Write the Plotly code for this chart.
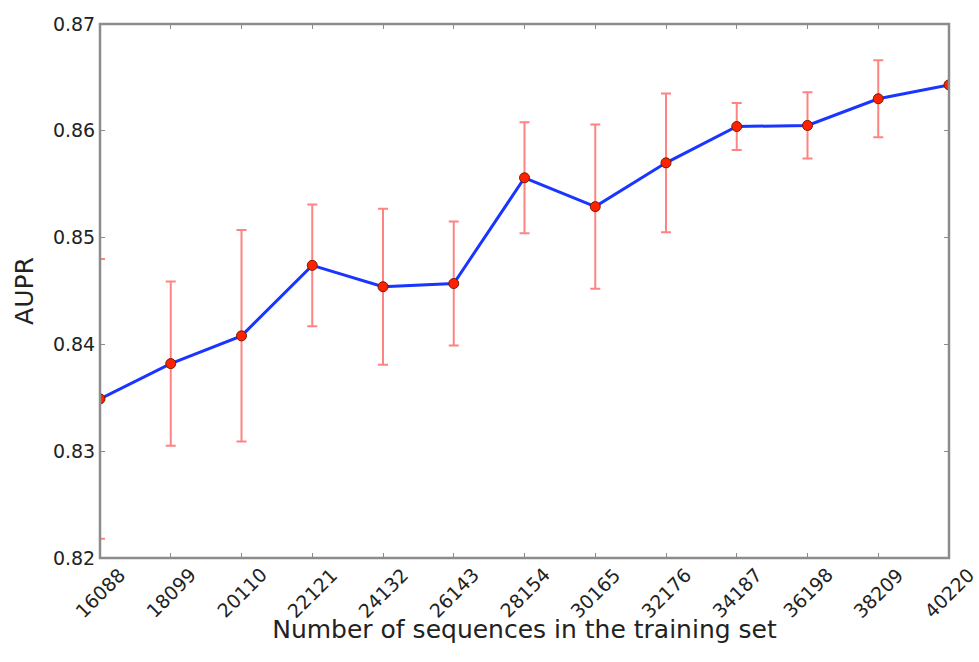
import plotly.graph_objects as go

sizes = [16088, 18099, 20110, 22121, 24132, 26143, 28154, 30165, 32176, 34187, 36198, 38209, 40220]
aupr = [0.8349, 0.8382, 0.8408, 0.8474, 0.8454, 0.8457, 0.8556, 0.8529, 0.8570, 0.8604, 0.8605, 0.8630, 0.8643]
err = [0.0131, 0.0077, 0.0099, 0.0057, 0.0073, 0.0058, 0.0052, 0.0077, 0.0065, 0.0022, 0.0031, 0.0036, 0.0]
yticks = [0.82, 0.83, 0.84, 0.85, 0.86, 0.87]

FRAME = "#8c8c8c"
TXT = "#222222"

fig = go.Figure()
fig.add_trace(go.Scatter(
    x=sizes, y=aupr, mode="lines+markers",
    line=dict(color="#1a35ff", width=3),
    marker=dict(color="#ff2200", size=10, line=dict(color="#7a1a00", width=1)),
    error_y=dict(type="data", array=err, visible=True, color="rgba(255,90,90,0.75)",
                 thickness=2, width=5),
    showlegend=False,
))

axis_common = dict(
    showline=True, linecolor=FRAME, linewidth=1, mirror="allticks",
    ticks="inside", ticklen=5, tickcolor=FRAME, showgrid=False, zeroline=False,
    automargin=False,
)

# rotated tick labels centred under each tick (matplotlib-style)
tick_annotations = [
    dict(x=s, xref="x", y=0, yref="paper", yshift=-35, text=str(s), showarrow=False,
         textangle=-45, xanchor="center", yanchor="middle",
         font=dict(family="DejaVu Sans", size=19, color=TXT))
    for s in sizes
]

fig.update_layout(
    width=979, height=662,
    margin=dict(l=100, r=30, t=24, b=104),
    paper_bgcolor="white", plot_bgcolor="white",
    xaxis=dict(range=[sizes[0], sizes[-1]], tickvals=sizes, showticklabels=False,
               title=dict(text="Number of sequences in the training set",
                          font=dict(family="DejaVu Sans", size=25, color=TXT), standoff=62),
               **axis_common),
    yaxis=dict(range=[0.82, 0.87], tickvals=yticks, ticktext=[f"{v:.2f}" for v in yticks],
               tickfont=dict(family="DejaVu Sans", size=19, color=TXT),
               title=dict(text="AUPR", font=dict(family="DejaVu Sans", size=25, color=TXT),
                          standoff=12),
               **axis_common),
    annotations=tick_annotations,
    shapes=[dict(type="rect", xref="paper", yref="paper", x0=0, x1=1, y0=0, y1=1,
                 line=dict(color=FRAME, width=2.5), fillcolor="rgba(0,0,0,0)", layer="above")],
)

fig.write_html("out.html")
